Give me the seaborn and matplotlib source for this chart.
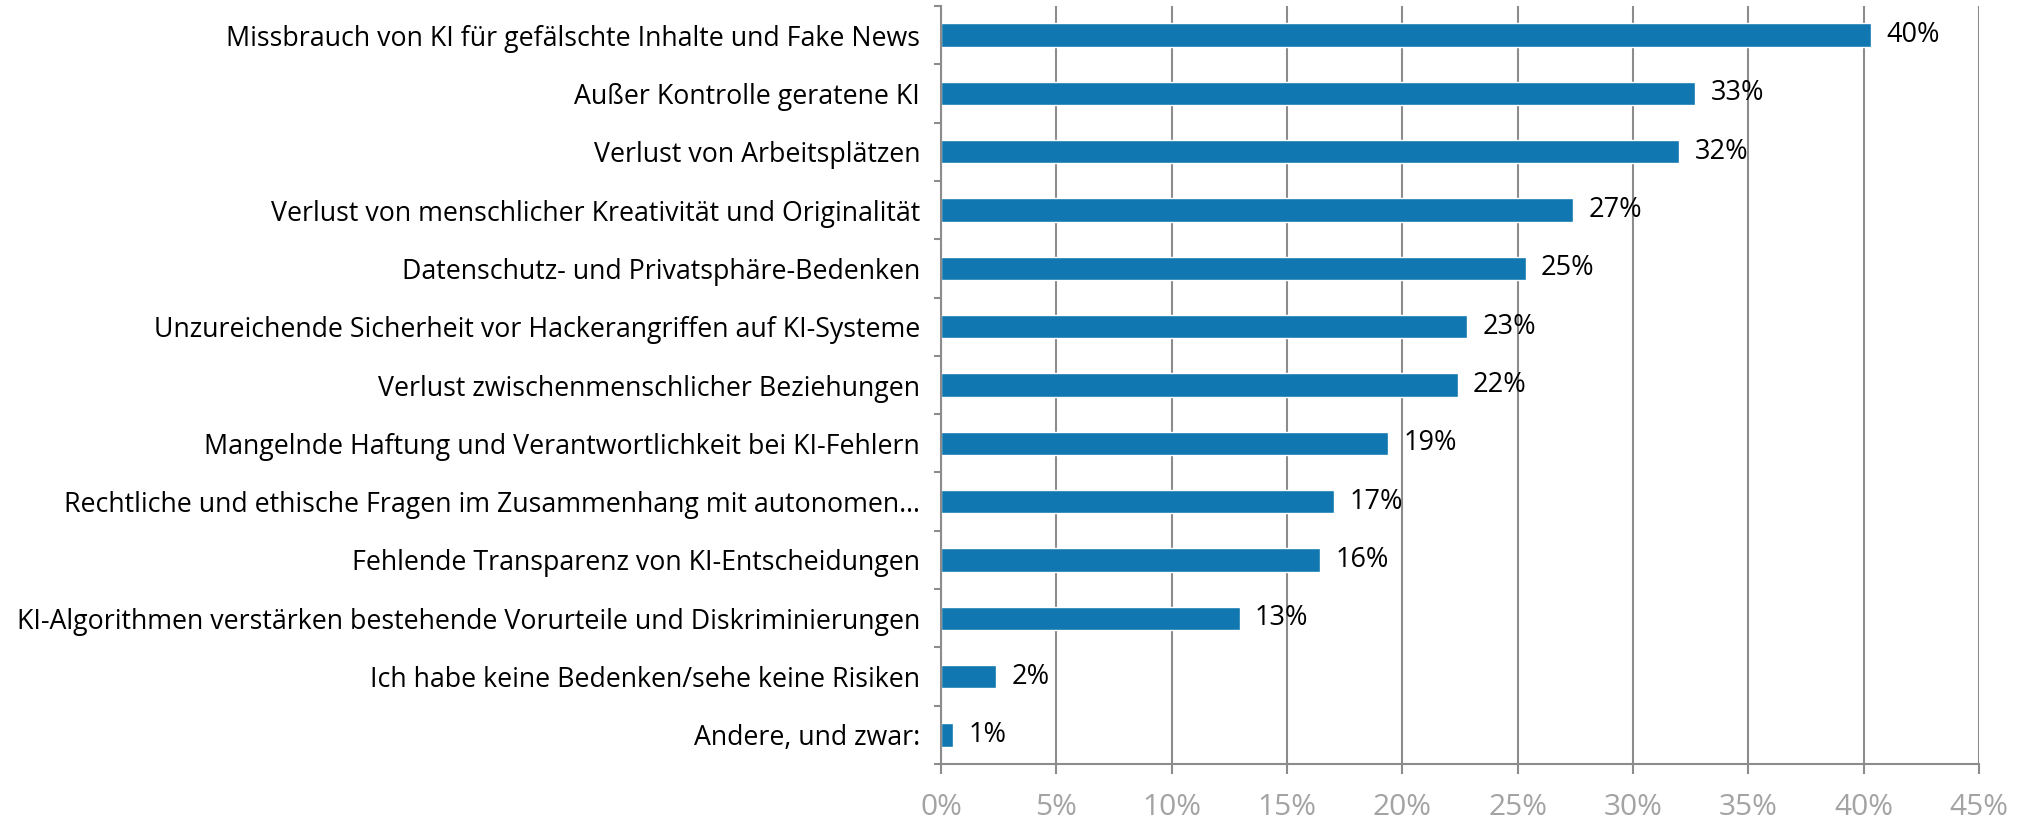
import numpy as np
import pandas as pd
import matplotlib
matplotlib.use("Agg")
import matplotlib.pyplot as plt
import seaborn as sns
from matplotlib.ticker import FixedLocator, FuncFormatter

# Values (share of respondents, %)
categories = [
    "Missbrauch von KI für gefälschte Inhalte und Fake News",
    "Außer Kontrolle geratene KI",
    "Verlust von Arbeitsplätzen",
    "Verlust von menschlicher Kreativität und Originalität",
    "Datenschutz- und Privatsphäre-Bedenken",
    "Unzureichende Sicherheit vor Hackerangriffen auf KI-Systeme",
    "Verlust zwischenmenschlicher Beziehungen",
    "Mangelnde Haftung und Verantwortlichkeit bei KI-Fehlern",
    "Rechtliche und ethische Fragen im Zusammenhang mit autonomen…",
    "Fehlende Transparenz von KI-Entscheidungen",
    "KI-Algorithmen verstärken bestehende Vorurteile und Diskriminierungen",
    "Ich habe keine Bedenken/sehe keine Risiken",
    "Andere, und zwar:",
]
shares = [40.3, 32.7, 32.0, 27.4, 25.35, 22.8, 22.4, 19.4, 17.05, 16.45, 12.95, 2.4, 0.52]
value_labels = ["40%", "33%", "32%", "27%", "25%", "23%", "22%", "19%", "17%", "16%", "13%", "2%", "1%"]
x_ticks = [0, 5, 10, 15, 20, 25, 30, 35, 40, 45]

data = pd.DataFrame({"Kategorie": categories, "Anteil": shares})

sns.set_theme(style="white")
plt.rcParams["font.family"] = ["Open Sans", "DejaVu Sans"]

grey = "#8c8c8c"
bar_blue = "#1177b1"

fig = plt.figure(figsize=(20.24, 8.21), dpi=100)
ax = fig.add_axes([0.4649, 0.0694, 0.5129, 0.9233])

sns.barplot(data=data, x="Anteil", y="Kategorie", orient="h",
            color=bar_blue, width=0.40, saturation=1, ax=ax)

ax.bar_label(ax.containers[0], labels=value_labels, padding=11,
             fontsize=19.5, color="black")

ax.set_xlim(0, 45)
ax.set_ylim(len(categories) - 0.5, -0.5)
ax.set_xlabel("")
ax.set_ylabel("")

# x axis: gridlines + grey percent labels
ax.xaxis.set_major_locator(FixedLocator(x_ticks))
ax.xaxis.set_major_formatter(FuncFormatter(lambda v, p: f"{v:.0f}%"))
ax.grid(axis="x", color=grey, linewidth=1.5)
ax.grid(axis="y", visible=False)
ax.set_axisbelow(True)
ax.tick_params(axis="x", direction="out", length=7, width=1.5, color=grey,
               labelcolor="#a3a3a3", labelsize=21.5, pad=14, bottom=True)

# y axis: labels at the bars, tick marks between categories
ax.tick_params(axis="y", which="major", length=0, pad=15, labelsize=19.3,
               labelcolor="black")
ax.yaxis.set_minor_locator(FixedLocator(np.arange(-0.5, len(categories), 1.0)))
ax.tick_params(axis="y", which="minor", direction="out", length=5, width=1.5,
               color=grey, left=True)

for side in ["top", "right"]:
    ax.spines[side].set_visible(False)
for side in ["left", "bottom"]:
    ax.spines[side].set_color(grey)
    ax.spines[side].set_linewidth(1.5)

fig.savefig("out.png", dpi=100)
